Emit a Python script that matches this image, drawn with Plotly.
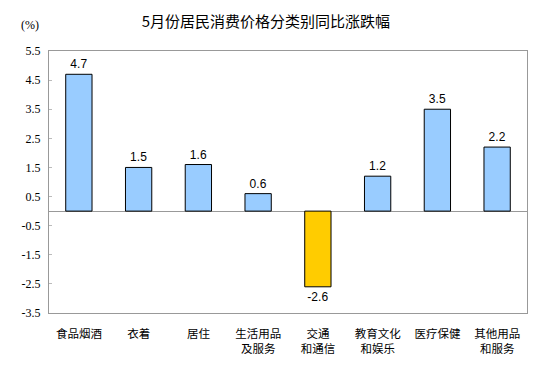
import plotly.graph_objects as go

categories = ["食品烟酒", "衣着", "居住", "生活用品<br>及服务", "交通<br>和通信", "教育文化<br>和娱乐", "医疗保健", "其他用品<br>和服务"]
values = [4.7, 1.5, 1.6, 0.6, -2.6, 1.2, 3.5, 2.2]
tick_vals = [5.5, 4.5, 3.5, 2.5, 1.5, 0.5, -0.5, -1.5, -2.5, -3.5]
tick_text = ["5.5", "4.5", "3.5", "2.5", "1.5", "0.5", "-0.5", "-1.5", "-2.5", "-3.5"]

colors = ["#FFCC00" if v < 0 else "#99CCFF" for v in values]

fig = go.Figure()
fig.add_trace(go.Bar(
    x=categories, y=values,
    marker=dict(color=colors, line=dict(color="black", width=1)),
    width=0.44,
    text=[f"{v:.1f}" for v in values],
    textposition="outside",
    textfont=dict(family="Liberation Sans, Arial", size=12, color="black"),
    cliponaxis=False,
))

fig.update_layout(
    width=544, height=366,
    margin=dict(l=41, r=25, t=43, b=61),
    paper_bgcolor="white", plot_bgcolor="white",
    showlegend=False,
    title=dict(text="5月份居民消费价格分类别同比涨跌幅", x=0.474, xanchor="center", y=0.962, yanchor="middle",
               font=dict(family="Noto Sans CJK SC", size=15, color="black")),
    xaxis=dict(showline=True, linecolor="#999999", linewidth=1, mirror=True, ticks="",
               ticklabelstandoff=10,
               tickfont=dict(family="Noto Sans CJK SC", size=11.5, color="black"), showgrid=False),
    yaxis=dict(range=[-3.5, 5.5], tickvals=tick_vals, ticktext=tick_text, showline=True,
               linecolor="#999999", linewidth=1, mirror=True, ticks="inside", ticklen=3,
               tickcolor="#bbbbbb", tickwidth=1, showgrid=False,
               ticklabelstandoff=5,
               zeroline=True, zerolinecolor="#999999", zerolinewidth=1,
               tickfont=dict(family="Liberation Serif", size=12, color="black")),
    bargap=0.56,
)
fig.add_annotation(text="(%)", xref="paper", yref="paper", x=-0.04, y=1.099, showarrow=False,
                   xanchor="center", yanchor="middle",
                   font=dict(family="Liberation Serif", size=12, color="black"))
fig.write_html("out.html")
